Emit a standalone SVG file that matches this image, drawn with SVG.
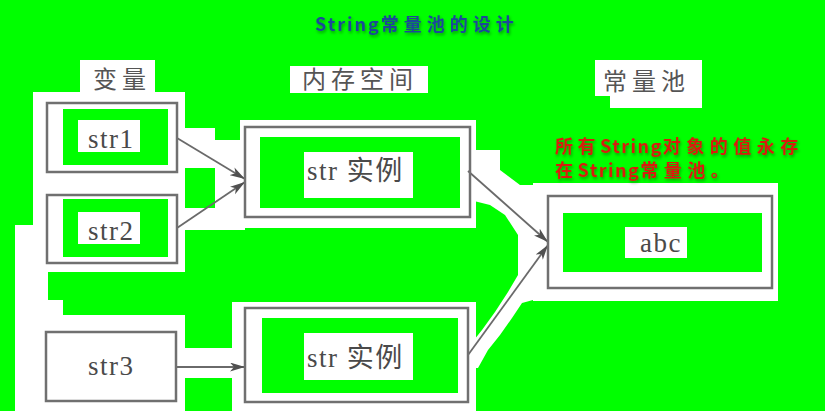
<svg xmlns="http://www.w3.org/2000/svg" width="825" height="411" viewBox="0 0 825 411">
  <style>
    .halo { fill: #ffffff; }
    .box { fill: none; stroke: #707070; stroke-width: 2.5; }
    .hole { fill: #00ff00; }
    .patch { fill: #ffffff; }
    .lbl { font-family: "Liberation Serif", "DejaVu Serif", "Noto Sans CJK SC", serif; font-size: 27px; fill: #4a4a4a; letter-spacing: 1.5px; }
    .col { font-family: "Liberation Serif", "Noto Sans CJK SC", serif; font-size: 24px; fill: #555555; letter-spacing: 5px; }
    .title { font-family: "Noto Sans CJK SC", "DejaVu Sans", sans-serif; font-size: 18px; font-weight: bold; fill: #1a4a98; }
    .note { font-family: "Noto Sans CJK SC", "DejaVu Sans", sans-serif; font-size: 18px; font-weight: bold; fill: #d81e10; }
    .conn { stroke: #6a6a6a; stroke-width: 1.8; fill: none; marker-end: url(#arrow); }
  </style>
  <defs>
    <marker id="arrow" markerUnits="userSpaceOnUse" markerWidth="16" markerHeight="10" refX="15" refY="4.5" orient="auto">
      <path d="M0,0 L15,4.5 L0,9 L4,4.5 z" fill="#505050"/>
    </marker>
    <filter id="shadow" x="-10%" y="-30%" width="120%" height="170%">
      <feDropShadow dx="1" dy="2" stdDeviation="1.5" flood-color="#000000" flood-opacity="0.35"/>
    </filter>
  </defs>

  <rect x="0" y="0" width="825" height="411" fill="#00ff00"/>

  <!-- scanned white backgrounds -->
  <g id="backdrop" class="halo">
    <rect x="33" y="92" width="152" height="180"/>
    <rect x="80" y="60" width="75" height="34"/>
    <rect x="185" y="128" width="30" height="40"/>
    <rect x="215" y="140" width="30" height="90"/>
    <rect x="185" y="208" width="30" height="22"/>
    <rect x="240" y="120" width="236" height="108"/>
    <rect x="290" y="66" width="138" height="27"/>
    <rect x="595" y="60" width="107" height="36"/>
    <rect x="610" y="94" width="92" height="14"/>
    <polygon points="470,150 500,150 500,170 520,185 533,185 533,300 522,303 512,318 500,335 488,350 478,368 470,368 470,345 482,330 495,312 508,292 518,275 518,235 505,215 490,205 470,200"/>
    <rect x="533" y="183" width="245" height="118"/>
    <rect x="15" y="225" width="33" height="186"/>
    <rect x="15" y="300" width="48" height="111"/>
    <rect x="15" y="315" width="170" height="96"/>
    <rect x="185" y="348" width="60" height="30"/>
    <rect x="232" y="302" width="244" height="109"/>
  </g>

  <g id="title" filter="url(#shadow)">
    <text class="title" x="315" y="31"><tspan letter-spacing="2">String</tspan><tspan letter-spacing="5">常量池的设计</tspan></text>
  </g>

  <g id="col-labels">
    <text class="col" x="93" y="88" letter-spacing="4">变量</text>
    <text class="col" x="302" y="88">内存空间</text>
    <text class="col" x="603" y="90">常量池</text>
  </g>

  <g id="note" filter="url(#shadow)">
    <text class="note" x="555" y="153"><tspan letter-spacing="4.5">所有</tspan><tspan letter-spacing="1.5">String</tspan><tspan letter-spacing="5.5">对象的值永存</tspan></text>
    <text class="note" x="555" y="177"><tspan letter-spacing="4.5">在</tspan><tspan letter-spacing="1.5">String</tspan><tspan letter-spacing="5.5">常量池。</tspan></text>
  </g>

  <g id="connectors">
    <line class="conn" x1="177" y1="138" x2="245" y2="179"/>
    <line class="conn" x1="177" y1="228" x2="245" y2="182"/>
    <line class="conn" x1="176" y1="367" x2="245" y2="367"/>
    <line class="conn" x1="468" y1="171" x2="548" y2="242"/>
    <line class="conn" x1="468" y1="355" x2="548" y2="245"/>
  </g>

  <g id="var-str1">
    <rect class="box" x="47" y="103" width="130" height="69"/>
    <rect class="hole" x="63" y="109" width="105" height="56"/>
    <rect class="patch" x="78" y="120" width="62" height="32"/>
    <text class="lbl" x="88" y="148">str1</text>
  </g>

  <g id="var-str2">
    <rect class="box" x="47" y="195" width="130" height="68"/>
    <rect class="hole" x="63" y="199" width="105" height="58"/>
    <rect class="patch" x="78" y="212" width="62" height="32"/>
    <text class="lbl" x="88" y="240">str2</text>
  </g>

  <g id="var-str3">
    <rect class="box" x="46" y="332" width="130" height="69"/>
    <text class="lbl" x="88" y="375">str3</text>
  </g>

  <g id="mem-1">
    <rect class="box" x="245" y="127" width="225" height="90"/>
    <rect class="hole" x="260" y="137" width="200" height="71"/>
    <rect class="patch" x="304" y="152" width="109" height="46"/>
    <text class="lbl" x="307" y="180">str 实例</text>
  </g>

  <g id="mem-2">
    <rect class="box" x="245" y="308" width="223" height="94"/>
    <rect class="hole" x="262" y="318" width="196" height="75"/>
    <rect class="patch" x="304" y="333" width="109" height="47"/>
    <text class="lbl" x="307" y="367">str 实例</text>
  </g>

  <g id="pool-abc">
    <rect class="box" x="548" y="196" width="224" height="92"/>
    <rect class="hole" x="563" y="213" width="199" height="59"/>
    <rect class="patch" x="625" y="227" width="62" height="31"/>
    <text class="lbl" x="640" y="252" letter-spacing="1">abc</text>
  </g>
</svg>
